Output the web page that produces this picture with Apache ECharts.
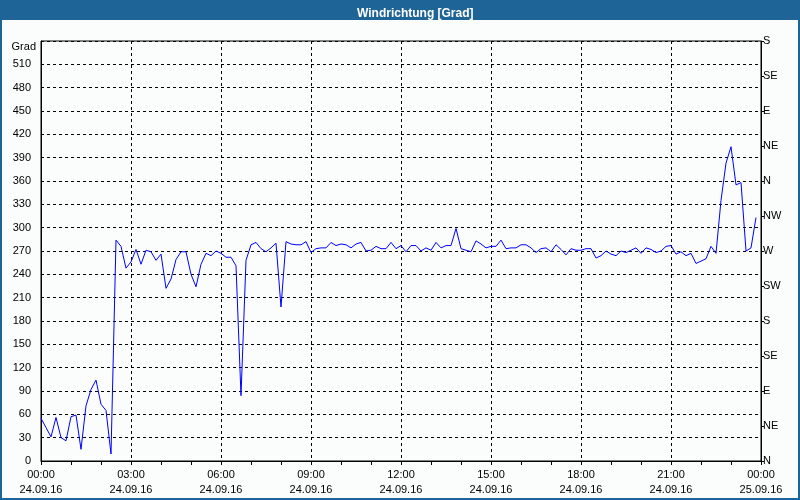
<!DOCTYPE html>
<html>
<head>
<meta charset="utf-8">
<script src="https://cdn.jsdelivr.net/npm/echarts@6/dist/echarts.min.js"></script>
<style>
html,body{margin:0;padding:0;background:#fbfdfc;}
#chart{width:800px;height:500px;}
</style>
</head>
<body>
<div id="chart"></div>
<script>
// Wind direction in degrees, one reading every 10 minutes from 00:00 (24.09.16)
const sampleMinutes = 10;
const windDirection = [
  55, 43, 31, 56, 30, 26, 57, 59, 15, 71, 92, 104, 73, 65, 9, 284,
  276, 248, 256, 272, 253, 271, 269, 258, 266, 222, 234, 259, 269, 269, 240, 224,
  253, 267, 264, 270, 267, 262, 262, 251, 84, 258, 278, 281, 273, 269, 274, 280,
  198, 282, 279, 278, 278, 282, 268, 273, 274, 274, 281, 277, 279, 278, 274, 279,
  281, 270, 271, 276, 273, 273, 281, 273, 277, 269, 277, 277, 270, 274, 271, 281,
  274, 277, 277, 299, 273, 271, 269, 283, 279, 274, 276, 276, 284, 273, 274, 274,
  278, 278, 274, 268, 273, 274, 269, 278, 272, 265, 273, 271, 271, 273, 273, 261,
  264, 270, 266, 264, 270, 268, 271, 274, 267, 274, 272, 268, 270, 276, 277, 266,
  269, 264, 267, 254, 257, 260, 276, 267, 335, 383, 404, 355, 358, 270, 274, 313
];
const tickTimes = ['00:00','03:00','06:00','09:00','12:00','15:00','18:00','21:00','00:00'];
const tickDates = ['24.09.16','24.09.16','24.09.16','24.09.16','24.09.16','24.09.16','24.09.16','24.09.16','25.09.16'];
const compassLabels = ['N','NE','E','SE','S','SW','W','NW','N','NE','E','SE','S'];

const seriesData = windDirection.map((v, i) => [i * sampleMinutes, v]);
const FONT = 'Liberation Sans';
const BLUE = '#1e6496';
const dash = { color: '#000', width: 1, type: [3, 3] };

const chart = echarts.init(document.getElementById('chart'), null, { renderer: 'canvas' });
chart.setOption({
  animation: false,
  backgroundColor: '#fbfdfc',
  title: {
    text: 'Windrichtung [Grad]',
    left: 352, top: 3,
    textStyle: { color: '#fff', fontFamily: FONT, fontWeight: 'bold', fontSize: 12 }
  },
  graphic: [
    { type: 'rect', shape: { x: 0, y: 0, width: 800, height: 20 }, style: { fill: BLUE }, z: -1 },
    { type: 'rect', shape: { x: 1, y: 1, width: 798, height: 498 }, style: { fill: null, stroke: BLUE, lineWidth: 2 }, z: 100 },
    { type: 'text', right: 800 - 36, top: 41, style: { text: 'Grad', fill: '#000', font: '11px "' + FONT + '"', textAlign: 'right' } }
  ],
  grid: { left: 41, right: 39, top: 41, bottom: 39, show: true, borderColor: '#000', borderWidth: 1, backgroundColor: 'transparent' },
  xAxis: {
    type: 'value', min: 0, max: 1440, interval: 180,
    axisLine: { show: true, lineStyle: { color: '#000', width: 1 } },
    axisTick: { show: true, length: 4, lineStyle: { color: '#000' } },
    minorTick: { show: true, splitNumber: 3, length: 4, lineStyle: { color: '#000' } },
    splitLine: { show: true, lineStyle: dash },
    axisLabel: {
      margin: 6, color: '#000', fontFamily: FONT, fontSize: 11, lineHeight: 15,
      formatter: (v, i) => tickTimes[i] + '\n' + tickDates[i]
    }
  },
  yAxis: [
    {
      type: 'value', min: 0, max: 540, interval: 30, position: 'left',
      axisLine: { show: true, lineStyle: { color: '#000', width: 1 } },
      axisTick: { show: false },
      splitLine: { show: true, lineStyle: dash },
      axisLabel: {
        margin: 10, color: '#000', fontFamily: FONT, fontSize: 11, padding: [2, 0, 0, 0],
        formatter: v => (v === 540 ? '' : String(v))
      }
    },
    {
      type: 'value', min: 0, max: 540, interval: 45, position: 'right',
      axisLine: { show: true, lineStyle: { color: '#000', width: 1 } },
      axisTick: { show: true, length: 3, lineStyle: { color: '#000' } },
      splitLine: { show: false },
      axisLabel: {
        margin: 2, color: '#000', fontFamily: FONT, fontSize: 11, padding: [3, 0, 0, 0],
        formatter: (v, i) => compassLabels[i]
      }
    }
  ],
  series: [{
    type: 'line', yAxisIndex: 0, data: seriesData,
    showSymbol: false, symbol: 'none',
    lineStyle: { color: '#0000ff', width: 1 },
    itemStyle: { color: '#0000ff' }
  }]
});
</script>
</body>
</html>
